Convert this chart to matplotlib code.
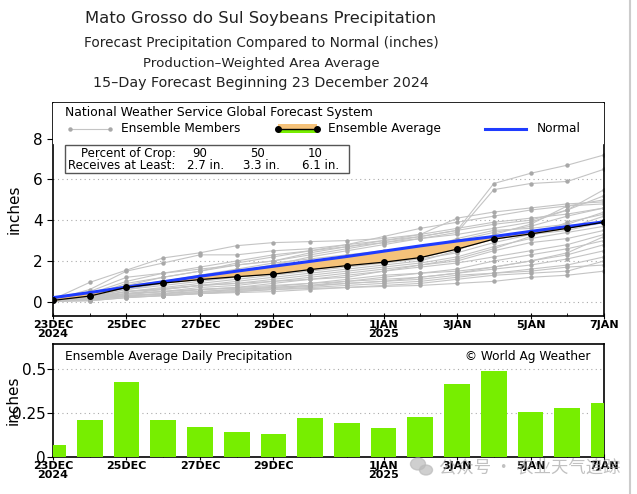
import numpy as np
import matplotlib
matplotlib.use('Agg')
import matplotlib.pyplot as plt
from matplotlib.patches import Rectangle, Ellipse

# dias desde 23 DEC 2024
days = np.arange(16)
tick_pos = [0, 2, 4, 6, 9, 11, 13, 15]
tick_labels = ['23DEC\n2024', '25DEC', '27DEC', '29DEC', '1JAN\n2025', '3JAN', '5JAN', '7JAN']

# precipitacion diaria media del ensemble (in)
daily_avg = [0.066, 0.212, 0.426, 0.212, 0.170, 0.140, 0.129, 0.222,
             0.195, 0.167, 0.227, 0.415, 0.490, 0.254, 0.277, 0.305]

# normal acumulada (in)
normal = [0.20, 0.45, 0.72, 0.98, 1.25, 1.50, 1.74, 1.98,
          2.22, 2.48, 2.74, 2.98, 3.20, 3.45, 3.69, 3.92]

# miembros del ensemble, acumulado (in)
members = [
    [0.10, 0.30, 0.80, 1.20, 1.50, 1.80, 2.00, 2.30, 2.60, 2.90, 3.20, 3.50, 5.80, 6.30, 6.70, 7.20],
    [0.08, 0.20, 0.60, 0.90, 1.20, 1.50, 1.80, 2.20, 2.50, 2.80, 3.10, 3.40, 5.50, 5.80, 5.90, 6.50],
    [0.12, 0.95, 1.55, 2.15, 2.40, 2.75, 2.90, 2.95, 3.00, 3.10, 3.30, 3.60, 3.90, 4.10, 4.30, 4.60],
    [0.10, 0.60, 1.50, 1.90, 2.30, 2.30, 2.50, 2.60, 2.80, 3.00, 3.20, 3.50, 3.80, 4.00, 4.50, 5.20],
    [0.09, 0.50, 1.20, 1.40, 1.70, 2.00, 2.30, 2.50, 2.70, 2.90, 3.10, 3.30, 3.60, 3.90, 4.50, 5.50],
    [0.07, 0.40, 1.00, 1.40, 1.60, 1.80, 2.00, 2.40, 2.70, 3.00, 3.30, 4.10, 4.40, 4.60, 4.80, 4.90],
    [0.06, 0.30, 0.90, 1.20, 1.50, 1.90, 2.20, 2.50, 2.80, 3.20, 3.60, 3.90, 4.20, 4.50, 4.70, 4.80],
    [0.05, 0.20, 0.70, 1.00, 1.30, 1.60, 1.90, 2.10, 2.30, 2.50, 2.70, 3.00, 3.40, 3.70, 4.20, 4.60],
    [0.04, 0.10, 0.40, 0.60, 0.80, 1.00, 1.20, 1.40, 1.60, 1.80, 2.00, 2.50, 3.30, 3.80, 4.70, 5.00],
    [0.08, 0.30, 0.80, 1.00, 1.20, 1.30, 1.50, 1.70, 1.90, 2.20, 2.50, 3.10, 3.50, 3.60, 3.80, 4.40],
    [0.06, 0.25, 0.60, 0.80, 1.00, 1.20, 1.40, 1.60, 1.80, 2.00, 2.30, 2.70, 3.20, 3.40, 3.60, 4.20],
    [0.05, 0.20, 0.50, 0.70, 0.90, 1.10, 1.30, 1.50, 1.70, 1.90, 2.10, 2.40, 2.90, 3.30, 3.50, 3.90],
    [0.04, 0.15, 0.50, 0.60, 0.80, 0.90, 1.10, 1.30, 1.50, 1.70, 1.90, 2.20, 2.70, 3.10, 3.40, 3.70],
    [0.05, 0.20, 0.40, 0.50, 0.70, 0.80, 1.00, 1.20, 1.40, 1.60, 1.80, 2.00, 2.50, 2.90, 3.10, 3.50],
    [0.03, 0.10, 0.30, 0.40, 0.60, 0.70, 0.90, 1.10, 1.30, 1.50, 1.70, 1.90, 2.20, 2.50, 2.80, 3.30],
    [0.06, 0.20, 0.40, 0.50, 0.60, 0.70, 0.80, 0.90, 1.10, 1.30, 1.40, 1.60, 2.00, 2.30, 2.60, 3.00],
    [0.03, 0.10, 0.30, 0.40, 0.50, 0.60, 0.70, 0.80, 1.00, 1.20, 1.40, 1.50, 1.70, 2.00, 2.30, 2.80],
    [0.04, 0.10, 0.30, 0.35, 0.45, 0.55, 0.65, 0.75, 0.90, 1.00, 1.20, 1.40, 1.60, 1.80, 2.10, 2.50],
    [0.02, 0.05, 0.20, 0.30, 0.40, 0.50, 0.60, 0.70, 0.80, 0.90, 1.00, 1.20, 1.40, 1.60, 1.80, 2.20],
    [0.03, 0.10, 0.25, 0.30, 0.40, 0.50, 0.60, 0.65, 0.70, 0.80, 0.90, 1.10, 1.30, 1.40, 1.50, 2.00],
    [0.02, 0.05, 0.20, 0.30, 0.40, 0.45, 0.50, 0.60, 0.70, 0.75, 0.80, 0.90, 1.00, 1.20, 1.30, 1.50],
    [0.03, 0.10, 0.30, 0.40, 0.50, 0.60, 0.70, 0.80, 0.90, 1.00, 1.10, 1.30, 1.40, 1.50, 1.70, 1.80],
    [0.05, 0.15, 0.35, 0.50, 0.60, 0.65, 0.75, 0.90, 1.00, 1.10, 1.20, 1.40, 1.70, 2.00, 2.40, 3.20],
    [0.06, 0.20, 0.50, 0.65, 0.80, 0.90, 1.00, 1.10, 1.20, 1.50, 1.80, 2.10, 2.60, 3.20, 3.90, 4.30],
]

# media acumulada = suma de la diaria
ens_avg = np.cumsum(daily_avg)

title_lines = ['Mato Grosso do Sul Soybeans Precipitation',
               'Forecast Precipitation Compared to Normal (inches)',
               'Production\u2013Weighted Area Average',
               '15\u2013Day Forecast Beginning 23 December 2024']

GREEN = '#77ee00'
ORANGE = '#f5c27a'
BLUE = '#1f3cff'
MEMBER = '#a8a8a8'

fig = plt.figure(figsize=(6.37, 4.94), dpi=100)
W, H = 637, 494

# titulos
sizes = [11.8, 9.8, 9.6, 10.3]
ys = [18, 43, 63, 83]
for txt, s, yy in zip(title_lines, sizes, ys):
    fig.text(261 / W, 1 - yy / H, txt, ha='center', va='center', fontsize=s, color='#222222')

# ---- panel superior ----
ax = fig.add_axes([53 / W, 1 - 316 / H, 551 / W, 213 / H])
for m in members:
    ax.plot(days, m, color='#c4c4c4', lw=0.8, zorder=2)
    ax.plot(days, m, 'o', color=MEMBER, ms=3.2, mec='none', zorder=2)

normal_arr = np.array(normal)
ax.fill_between(days, ens_avg, normal_arr, where=normal_arr >= ens_avg, color=ORANGE,
                interpolate=True, zorder=3, lw=0)
ax.fill_between(days, ens_avg, normal_arr, where=normal_arr < ens_avg, color=GREEN,
                interpolate=True, zorder=3, lw=0)
ax.plot(days, normal, color=BLUE, lw=2.2, zorder=4)
ax.plot(days, ens_avg, color='black', lw=0.9, marker='o', ms=4, zorder=5)

ax.set_xlim(0, 15)
ax.set_ylim(-0.7, 9.75)
ax.set_yticks([0, 2, 4, 6, 8])
ax.set_xticks(tick_pos)
ax.set_xticklabels(tick_labels, fontsize=8, fontweight='bold', linespacing=0.9)
ax.tick_params(axis='y', labelsize=11, length=4, direction='out')
ax.tick_params(axis='x', length=4, direction='inout', pad=1)
ax.set_xticks(days, minor=True)
ax.tick_params(axis='x', which='minor', length=2, direction='in')
for g in [0, 2, 4, 6]:
    ax.axhline(g, color='#aaaaaa', lw=0.8, ls=(0, (1, 3)), zorder=1)
ax.set_ylabel('inches', fontsize=11, labelpad=8)
for sp in ax.spines.values():
    sp.set_linewidth(1.2)

# leyenda dibujada a mano
ax.add_patch(Rectangle((0, 0.81), 1, 0.19, transform=ax.transAxes, color='white', zorder=6))
ax.text(0.022, 0.955, 'National Weather Service Global Forecast System', transform=ax.transAxes,
        fontsize=8.9, va='center', zorder=7)
ax.plot([0.031, 0.103], [0.88, 0.88], transform=ax.transAxes, color='#c4c4c4', lw=0.8, zorder=7)
ax.plot([0.031, 0.103], [0.88, 0.88], 'o', transform=ax.transAxes, color=MEMBER, ms=3.2, mec='none', zorder=7)
ax.text(0.123, 0.88, 'Ensemble Members', transform=ax.transAxes, fontsize=8.7, va='center', zorder=7)
ax.add_patch(Rectangle((0.408, 0.88), 0.071, 0.022, transform=ax.transAxes, color=ORANGE, zorder=7, lw=0))
ax.add_patch(Rectangle((0.408, 0.858), 0.071, 0.022, transform=ax.transAxes, color=GREEN, zorder=7, lw=0))
ax.plot([0.408, 0.479], [0.88, 0.88], transform=ax.transAxes, color='black', lw=1, marker='o', ms=4, zorder=8)
ax.text(0.50, 0.88, 'Ensemble Average', transform=ax.transAxes, fontsize=8.7, va='center', zorder=7)
ax.plot([0.784, 0.858], [0.88, 0.88], transform=ax.transAxes, color=BLUE, lw=2.2, zorder=7)
ax.text(0.878, 0.88, 'Normal', transform=ax.transAxes, fontsize=8.7, va='center', zorder=7)

bx0, bx1 = 12 / 551, 296 / 551
by0, by1 = (316 - 173) / 213, (316 - 145) / 213
ax.add_patch(Rectangle((bx0, by0), bx1 - bx0, by1 - by0, transform=ax.transAxes, fill=True,
                       fc='white', ec='#555555', lw=1, zorder=7))
row1 = ['Percent of Crop:', '90', '50', '10']
row2 = ['Receives at Least:', '2.7 in.', '3.3 in.', '6.1 in.']
cols1 = [0.223, 0.267, 0.372, 0.475]
cols2 = [0.223, 0.276, 0.379, 0.485]
for i in range(4):
    ha = 'right' if i == 0 else 'center'
    ax.text(cols1[i], 0.763, row1[i], transform=ax.transAxes, fontsize=8.5, ha=ha, va='center', zorder=8)
    ax.text(cols2[i], 0.706, row2[i], transform=ax.transAxes, fontsize=8.5, ha=ha, va='center', zorder=8)

# ---- panel inferior ----
ax2 = fig.add_axes([53 / W, 1 - 457 / H, 551 / W, 113 / H])
ax2.bar(days, daily_avg, width=0.7, color=GREEN, zorder=3)
ax2.set_xlim(0, 15)
ax2.set_ylim(0, 0.642)
ax2.set_yticks([0, 0.25, 0.5])
ax2.set_yticklabels(['0', '0.25', '0.5'])
ax2.set_xticks(tick_pos)
ax2.set_xticklabels(tick_labels, fontsize=8, fontweight='bold', linespacing=0.9)
ax2.set_xticks(days, minor=True)
ax2.tick_params(axis='y', labelsize=11, length=4, pad=1)
ax2.tick_params(axis='x', length=4, direction='inout', pad=1)
ax2.tick_params(axis='x', which='minor', length=2, direction='in')
for g in [0.25, 0.5]:
    ax2.axhline(g, color='#aaaaaa', lw=0.8, ls=(0, (1, 3)), zorder=1)
ax2.set_ylabel('inches', fontsize=11, labelpad=-6)
for sp in ax2.spines.values():
    sp.set_linewidth(1.2)
ax2.text(0.022, 0.89, 'Ensemble Average Daily Precipitation', transform=ax2.transAxes,
         fontsize=8.7, va='center', zorder=5)
ax2.text(0.975, 0.89, '\u00a9 World Ag Weather', transform=ax2.transAxes,
         fontsize=8.7, va='center', ha='right', zorder=5)

# marca de agua
fig.text(439 / W, 1 - 467 / H, '公众号 · 农业天气追踪', fontsize=12.5, color='#999999', alpha=0.6,
         family=['Noto Sans CJK SC', 'DejaVu Sans'], va='center', zorder=10)
fig.add_artist(Ellipse((418 / W, 1 - 464 / H), 15 / W, 12 / H, color='#bbbbbb', alpha=0.7))
fig.add_artist(Ellipse((426 / W, 1 - 470 / H), 13 / W, 10 / H, color='#bbbbbb', alpha=0.7))

# borde gris a la derecha
fig.add_artist(plt.Line2D([630 / W, 630 / W], [0, 1], color='#cccccc', lw=1.5))

plt.savefig('out.png', dpi=100)
plt.close(fig)
